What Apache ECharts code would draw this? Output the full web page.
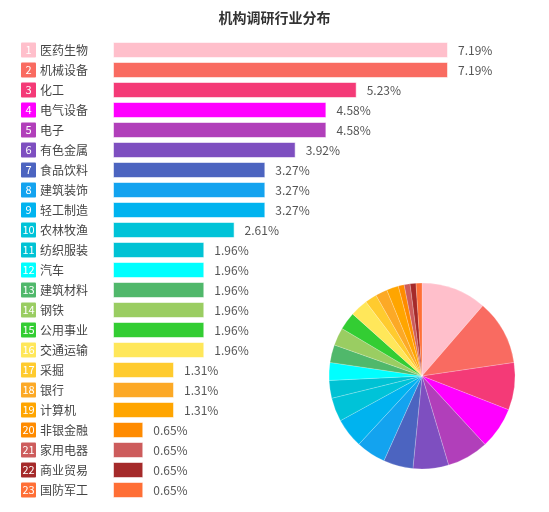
<!DOCTYPE html>
<html>
<head>
<meta charset="utf-8">
<script src="https://cdn.jsdelivr.net/npm/echarts@6/dist/echarts.min.js"></script>
<style>
  html, body { margin: 0; padding: 0; background: #fff; }
  #chart { width: 549px; height: 512px; }
</style>
</head>
<body>
<div id="chart"></div>
<script>
// 行业名称
const industries = [
  '医药生物', '机械设备', '化工', '电气设备', '电子', '有色金属', '食品饮料',
  '建筑装饰', '轻工制造', '农林牧渔', '纺织服装', '汽车', '建筑材料', '钢铁',
  '公用事业', '交通运输', '采掘', '银行', '计算机', '非银金融', '家用电器',
  '商业贸易', '国防军工'
];
// 占比 (%)
const shares = [
  7.19, 7.19, 5.23, 4.58, 4.58, 3.92, 3.27,
  3.27, 3.27, 2.61, 1.96, 1.96, 1.96, 1.96,
  1.96, 1.96, 1.31, 1.31, 1.31, 0.65, 0.65,
  0.65, 0.65
];
// 每个行业的颜色
const colors = [
  '#ffbfcb', '#f96b61', '#f43a77', '#ff00ff', '#b13fba', '#7e4fc0', '#4c64c0',
  '#13a3ef', '#00b3ef', '#00c3d8', '#00c2d4', '#00ffff', '#50b86b', '#9acd62',
  '#33cd33', '#ffe75a', '#ffcb2e', '#fca926', '#ffa500', '#ff8b00', '#cd5c5c',
  '#a52a2a', '#ff6f36'
];

const FONT = '"Microsoft YaHei", "Noto Sans CJK SC", sans-serif';

const rich = {
  name: { fontSize: 12, color: '#444', fontFamily: FONT, padding: [0, 0, 0, 4] }
};
colors.forEach((c, i) => {
  rich['n' + i] = {
    width: 15, height: 15, align: 'center', lineHeight: 15,
    backgroundColor: c, color: '#fff', fontSize: 11, fontFamily: FONT,
    borderColor: 'rgba(255,255,255,0.5)', borderWidth: 1, borderRadius: 1
  };
});

const myChart = echarts.init(document.getElementById('chart'));

const options = {
  title: {
    text: '机构调研行业分布',
    left: 'center',
    top: 6,
    textStyle: { fontSize: 14, fontWeight: 'bold', color: '#333', fontFamily: FONT }
  },
  grid: { left: 113, right: 101, top: 40, bottom: 12 },
  xAxis: {
    type: 'value',
    max: 'dataMax',
    show: false
  },
  yAxis: {
    type: 'category',
    data: industries,
    inverse: true,
    axisLine: { show: false },
    axisTick: { show: false },
    axisLabel: {
      align: 'left',
      margin: 92,
      formatter: (value, index) => `{n${index}|${index + 1}}{name|${value}}`,
      rich
    }
  },
  series: [
    {
      type: 'bar',
      data: shares.map((v, i) => ({ value: v, itemStyle: { color: colors[i] } })),
      barWidth: 16,
      itemStyle: { borderColor: 'rgba(255,255,255,0.55)', borderWidth: 1 },
      label: {
        show: true,
        position: 'right',
        distance: 10,
        formatter: p => p.value.toFixed(2) + '%',
        fontSize: 12,
        color: '#555',
        fontFamily: FONT
      },
      silent: true
    },
    {
      type: 'pie',
      center: [422, 376],
      radius: 93,
      startAngle: 90,
      label: { show: false },
      labelLine: { show: false },
      itemStyle: { borderColor: 'rgba(255,255,255,0.4)', borderWidth: 0.5 },
      data: industries.map((name, i) => ({
        name, value: shares[i], itemStyle: { color: colors[i] }
      })),
      silent: true
    }
  ],
  animation: false
};

myChart.setOption(options);
</script>
</body>
</html>
